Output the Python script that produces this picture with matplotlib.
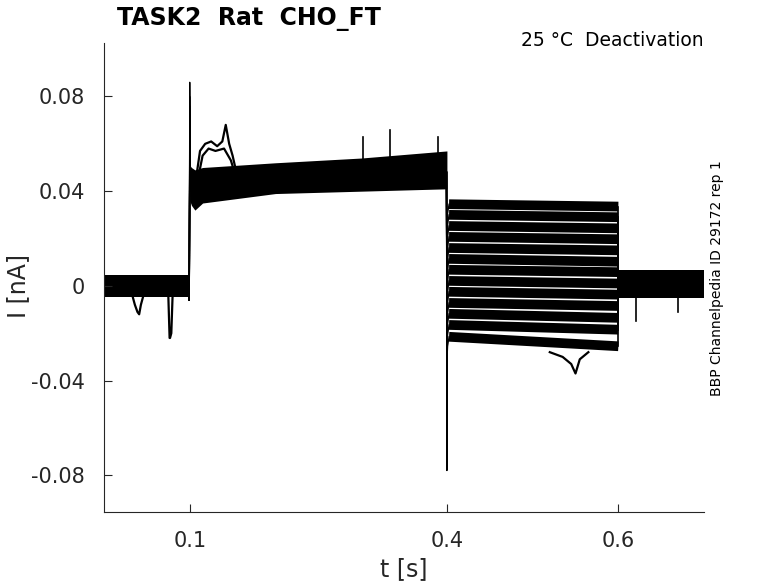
import matplotlib
matplotlib.use("Agg")
import matplotlib.pyplot as plt

# --- data (t in s, I in nA) ---
# noise envelopes of the overlapping sweeps
hold_t = [0.0, 0.1]
hold_hi = [0.0048, 0.0048]
hold_lo = [-0.0045, -0.0045]

pre_t = [0.1, 0.102, 0.106, 0.115, 0.2, 0.3, 0.4]
pre_hi = [0.051, 0.050, 0.049, 0.050, 0.052, 0.054, 0.057]
pre_lo = [0.036, 0.034, 0.032, 0.035, 0.039, 0.040, 0.041]

post_t = [0.6, 0.7]
post_hi = [0.0068, 0.0068]
post_lo = [-0.005, -0.005]

# test pulse (0.4 - 0.6 s) level of each sweep, at start and end
test_start = [0.0345, 0.0300, 0.0253, 0.0207, 0.0160, 0.0114, 0.0068,
              0.0021, -0.0025, -0.0072, -0.0118, -0.0165, -0.0215]
test_end = [0.0335, 0.0290, 0.0243, 0.0197, 0.0150, 0.0102, 0.0058,
            0.0010, -0.0037, -0.0085, -0.0135, -0.0185, -0.0255]
# capacitive transients at 0.1 s and 0.4 s
spike_on = [0.086, 0.080, 0.076, 0.072, 0.069, 0.066, 0.064,
            0.062, 0.060, 0.058, 0.057, 0.056, 0.055]
spike_off = [-0.078, -0.062, -0.056, -0.052, -0.048, -0.046, -0.044,
             -0.042, -0.040, -0.038, -0.036, -0.034, -0.032]

# single excursions
dip1_t = [0.033, 0.036, 0.039, 0.041, 0.043, 0.046]
dip1_i = [-0.004, -0.008, -0.011, -0.012, -0.008, -0.004]
dip2_t = [0.075, 0.0765, 0.077, 0.0785, 0.080]
dip2_i = [-0.004, -0.022, -0.022, -0.020, -0.004]
bump1_t = [0.108, 0.112, 0.118, 0.125, 0.132, 0.138, 0.142, 0.146, 0.150, 0.155]
bump1_i = [0.047, 0.057, 0.060, 0.061, 0.059, 0.061, 0.068, 0.060, 0.055, 0.047]
bump2_t = [0.110, 0.115, 0.122, 0.130, 0.140, 0.148, 0.153]
bump2_i = [0.046, 0.055, 0.058, 0.057, 0.058, 0.053, 0.047]
low_t = [0.52, 0.535, 0.545, 0.550, 0.555, 0.565]
low_i = [-0.028, -0.030, -0.033, -0.037, -0.031, -0.028]
peaks_t = [0.302, 0.334, 0.390, 0.620, 0.669]
peaks_i = [0.063, 0.066, 0.063, -0.015, -0.011]
peaks_base = [0.052, 0.053, 0.055, -0.004, -0.004]

xticks = [0.1, 0.4, 0.6]
yticks = [-0.08, -0.04, 0, 0.04, 0.08]
ytick_labels = ["-0.08", "-0.04", "0", "0.04", "0.08"]

fig = plt.figure(figsize=(7.78, 5.83), dpi=100)
ax = fig.add_axes([0.1337, 0.1218, 0.7713, 0.8045])

k = "black"
ax.fill_between(hold_t, hold_lo, hold_hi, color=k, lw=0)
ax.fill_between(pre_t, pre_lo, pre_hi, color=k, lw=0)
ax.fill_between(post_t, post_lo, post_hi, color=k, lw=0)

for s0, s1, up, down in zip(test_start, test_end, spike_on, spike_off):
    # step on and off transients
    ax.plot([0.0995, 0.1, 0.1008, 0.103], [-0.006, up, 0.040, 0.044], color=k, lw=0.9)
    ax.plot([0.3995, 0.4, 0.4008, 0.4025], [0.048, down, s0 - 0.004, s0], color=k, lw=0.9)
    # test pulse sweep
    ax.plot([0.4025, 0.6], [s0, s1], color=k, lw=7.0, solid_capstyle="butt")
    ax.plot([0.6, 0.6], [s1, 0.0], color=k, lw=1.2)

for tt, ii in [(dip1_t, dip1_i), (dip2_t, dip2_i), (bump1_t, bump1_i),
               (bump2_t, bump2_i), (low_t, low_i)]:
    ax.plot(tt, ii, color=k, lw=1.6)
for tp, ip, ib in zip(peaks_t, peaks_i, peaks_base):
    ax.plot([tp, tp], [ib, ip], color=k, lw=1.2)

ax.set_xlim(0.0, 0.7)
ax.set_ylim(-0.0955, 0.1026)
ax.set_xticks(xticks)
ax.set_xticklabels([str(v) for v in xticks])
ax.set_yticks(yticks)
ax.set_yticklabels(ytick_labels)
ax.tick_params(direction="in", length=6, width=0.8, colors="#262626",
               labelsize=15, pad=14)
for side in ["top", "right"]:
    ax.spines[side].set_visible(False)
for side in ["left", "bottom"]:
    ax.spines[side].set_color("#262626")
    ax.spines[side].set_linewidth(0.8)

ax.set_xlabel("t [s]", fontsize=17, color="#262626", labelpad=4)
fig.text(0.023, 0.51, "I [nA]", fontsize=17, color="#262626", rotation=90,
         va="center", ha="center")

fig.text(0.150, 0.968, "TASK2  Rat  CHO_FT", fontsize=17, fontweight="bold",
         va="center", ha="left")
fig.text(0.904, 0.930, "25 °C  Deactivation", fontsize=13.5, va="center", ha="right")
fig.text(0.921, 0.523, "BBP Channelpedia ID 29172 rep 1", fontsize=10,
         rotation=90, va="center", ha="center")

fig.savefig("out.png", dpi=100)
